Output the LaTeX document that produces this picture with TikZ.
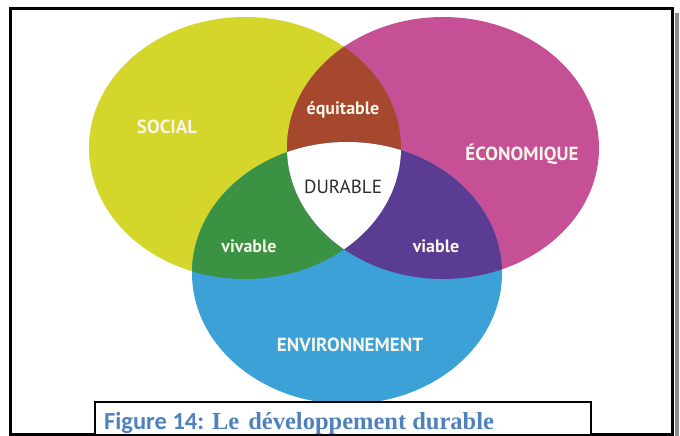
\documentclass[tikz,border=0pt]{standalone}
\usepackage{fontspec}
\setmainfont{Liberation Serif}
\newfontfamily\labelfont{PT Sans}
\newfontfamily\capsans{Carlito}
\definecolor{socialc}{RGB}{212,214,44}
\definecolor{ecoc}{RGB}{197,80,150}
\definecolor{envc}{RGB}{60,161,214}
\definecolor{brownc}{RGB}{166,72,46}
\definecolor{greenc}{RGB}{58,146,66}
\definecolor{purplec}{RGB}{90,60,146}
\definecolor{labc}{RGB}{246,245,232}
\definecolor{durc}{RGB}{45,45,45}
\definecolor{capc}{RGB}{79,129,189}
\tikzset{
  lab/.style={font=\labelfont\bfseries\fontsize{19}{19}\selectfont, text=labc, inner sep=0pt},
  lablow/.style={font=\labelfont\bfseries\fontsize{18}{18}\selectfont, text=labc, inner sep=0pt},
  durlab/.style={font=\labelfont\fontsize{19}{19}\selectfont, text=durc, inner sep=0pt},
  frameline/.style={draw=black, line width=3pt},
  capbox/.style={draw=black, line width=1.4pt, fill=white}
}
\def\socpath{(245,148) ellipse [x radius=156, y radius=131]}
\def\ecopath{(443,148) ellipse [x radius=156, y radius=131]}
\def\envpath{(347,273) ellipse [x radius=155, y radius=131]}
\begin{document}
\begin{tikzpicture}[x=1pt,y=-1pt]
\useasboundingbox (0,0) rectangle (680,436);
\fill[white] (0,0) rectangle (680,436);
% circles
\fill[socialc] \socpath;
\fill[ecoc] \ecopath;
\fill[envc] \envpath;
\begin{scope}
  \clip \socpath;
  \fill[brownc] \ecopath;
  \fill[greenc] \envpath;
\end{scope}
\begin{scope}
  \clip \ecopath;
  \fill[purplec] \envpath;
\end{scope}
\begin{scope}
  \clip \socpath;
  \clip \ecopath;
  \fill[white] \envpath;
\end{scope}
% labels
\node[lab] (social) at (167,127) {SOCIAL};
\node[lab] (eco) at (522,154) {ÉCONOMIQUE};
\node[lab] (env) at (350,345) {ENVIRONNEMENT};
\node[lablow] (equit) at (343,110) {équitable};
\node[lablow] (vivab) at (249,246) {vivable};
\node[lablow] (viab) at (436,246) {viable};
\node[durlab] (dur) at (343,187) {DURABLE};
% frame with shadow
\fill[black!45] (674.5,13) rectangle (678.5,436);
\draw[frameline] (10,9) rectangle (672,434.5);
% caption
\draw[capbox] (95,402) rectangle (591,434.5);
\node[anchor=base west, inner sep=0pt, text=capc, font=\bfseries\fontsize{24.5}{24.5}\selectfont] (caption) at (104,429)
  {{\capsans\bfseries Figure 14:}\hspace{8pt}Le\hspace{9pt}développement durable};
\end{tikzpicture}
\end{document}
